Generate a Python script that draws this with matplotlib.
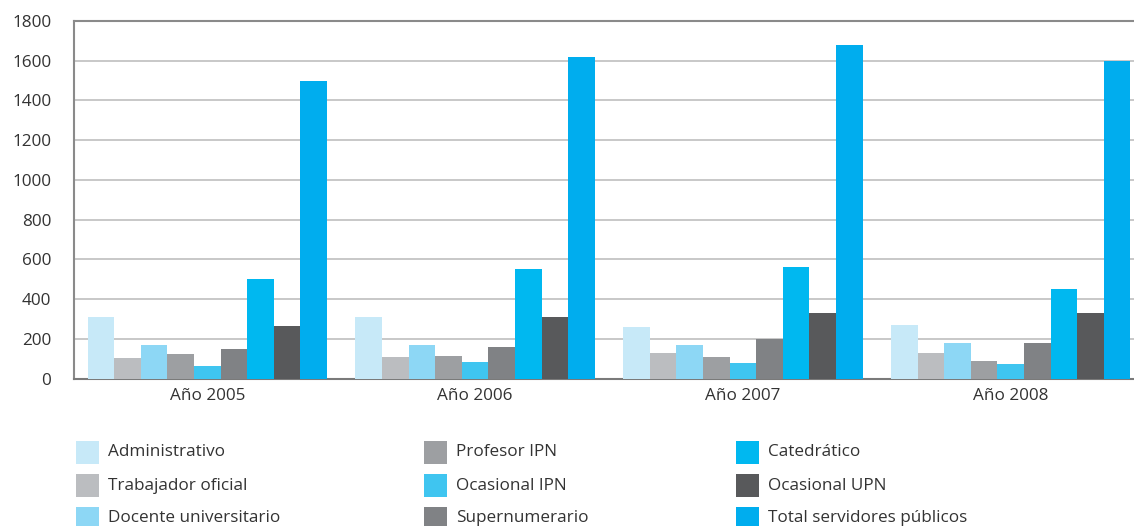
import matplotlib
matplotlib.use("Agg")
import matplotlib.pyplot as plt
from matplotlib.patches import Rectangle
import numpy as np

plt.rcParams['font.family'] = ['Open Sans', 'DejaVu Sans']

years = ["Año 2005", "Año 2006", "Año 2007", "Año 2008"]
series_names = [
    "Administrativo", "Trabajador oficial", "Docente universitario",
    "Profesor IPN", "Ocasional IPN", "Supernumerario",
    "Catedrático", "Ocasional UPN", "Total servidores públicos",
]
administrativo = [310, 310, 260, 270]
trabajador_oficial = [103, 108, 128, 128]
docente_universitario = [168, 168, 168, 178]
profesor_ipn = [123, 113, 108, 87]
ocasional_ipn = [62, 82, 77, 72]
supernumerario = [148, 158, 200, 178]
catedratico = [501, 552, 562, 451]
ocasional_upn = [264, 310, 330, 330]
total_servidores = [1500, 1620, 1680, 1600]
yticks = [0, 200, 400, 600, 800, 1000, 1200, 1400, 1600, 1800]

values = [administrativo, trabajador_oficial, docente_universitario,
          profesor_ipn, ocasional_ipn, supernumerario,
          catedratico, ocasional_upn, total_servidores]
colors = ["#C7E9F8", "#BBBDC0", "#8DD7F5", "#9D9FA2", "#3FC5F0",
          "#808285", "#00B8F0", "#58595B", "#00ADEE"]

W, H = 1134, 526
fig = plt.figure(figsize=(W / 100, H / 100), dpi=100)
left, right, top, bottom = 73.5, 1144.5, 21.0, 378.7
ax = fig.add_axes([left / W, 1 - bottom / H, (right - left) / W, (bottom - top) / H])

x = np.arange(len(years))
bw = 0.0993
for j, (vals, c) in enumerate(zip(values, colors)):
    ax.bar(x + (j - 4) * bw, vals, width=bw, color=c, zorder=3, linewidth=0)

ax.set_xlim(-0.5, 3.5)
ax.set_ylim(0, 1800)
ax.set_yticks(yticks)
ax.set_yticklabels([str(t) for t in yticks])
ax.set_xticks(x)
ax.set_xticklabels(years)
ax.tick_params(axis='y', length=0, pad=16, labelsize=12.3, labelcolor="#333333")
ax.tick_params(axis='x', length=0, pad=7, labelsize=12.3, labelcolor="#333333")
ax.yaxis.grid(True, color="#c4c4c4", linewidth=1.3, zorder=0)
ax.set_axisbelow(True)
ax.spines['right'].set_visible(False)
ax.spines['top'].set_color("#8a8a8a")
ax.spines['top'].set_linewidth(1.5)
ax.spines['left'].set_color("#8a8a8a")
ax.spines['left'].set_linewidth(1.5)
ax.spines['bottom'].set_color("#7a7a7a")
ax.spines['bottom'].set_linewidth(1.5)

col_x = [76, 424, 736]
row_y = [441, 474, 507]
for i, (name, c) in enumerate(zip(series_names, colors)):
    cx = col_x[i // 3]
    ry = row_y[i % 3]
    fig.patches.append(Rectangle((cx / W, 1 - (ry + 23) / H), 23 / W, 23 / H,
                                 transform=fig.transFigure, color=c, linewidth=0))
    fig.text((cx + 32) / W, 1 - (ry + 11.5) / H, name, fontsize=12.3,
             color="#333333", va='center', ha='left')

fig.savefig("out.png", dpi=100)
